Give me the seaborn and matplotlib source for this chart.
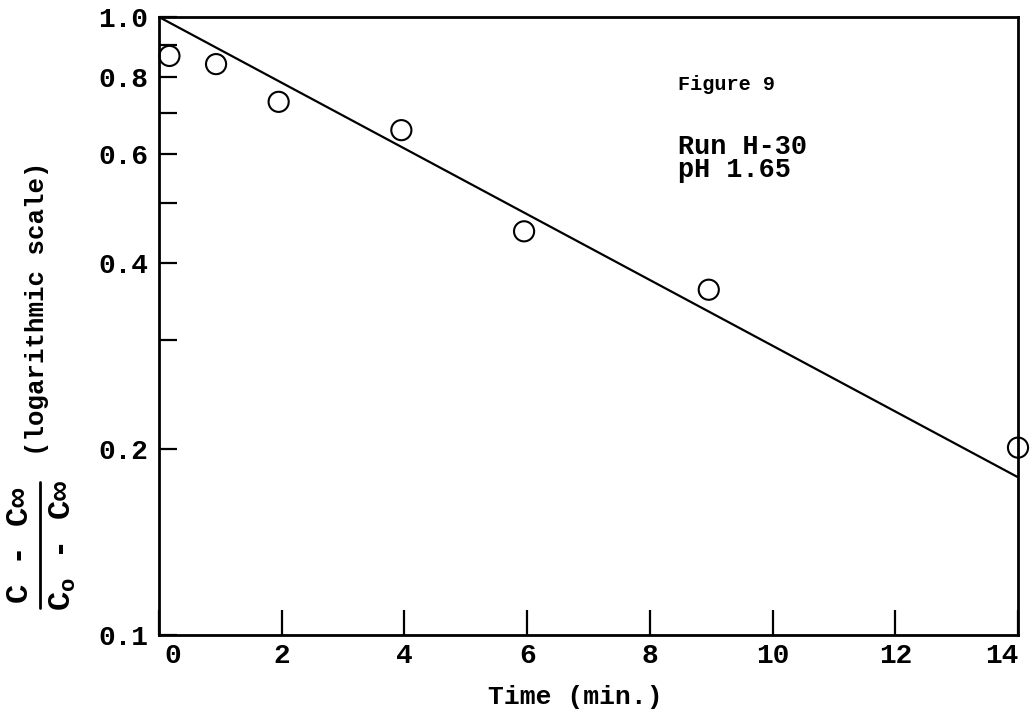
import numpy as np
import pandas as pd
import matplotlib
matplotlib.use("Agg")
import matplotlib.pyplot as plt
import matplotlib.transforms as mtransforms
from matplotlib.lines import Line2D
from matplotlib.ticker import FixedLocator, FixedFormatter, NullLocator
import seaborn as sns

# Measured concentration ratio vs time (Run H-30, pH 1.65)
time_min = [0.17, 0.93, 1.95, 3.95, 5.95, 8.96, 14.0]
ratio = [0.865, 0.839, 0.729, 0.656, 0.450, 0.362, 0.201]

# First-order fit line end points
fit_time = [0.0, 14.0]
fit_ratio = [1.0, 0.18]

y_ticks = [0.1, 0.2, 0.3, 0.4, 0.5, 0.6, 0.7, 0.8, 0.9, 1.0]
y_tick_labels = ["0.1", "0.2", "", "0.4", "", "0.6", "", "0.8", "", "1.0"]
x_ticks = [0, 2, 4, 6, 8, 10, 12, 14]
x_tick_labels = ["0", "2", "4", "6", "8", "10", "12", "14"]

sns.set_theme(style="white")
mono = "Liberation Mono"
plt.rcParams["font.family"] = [mono, "DejaVu Sans"]
plt.rcParams["font.weight"] = "bold"
plt.rcParams["mathtext.fontset"] = "custom"
plt.rcParams["mathtext.rm"] = mono + ":bold"
plt.rcParams["mathtext.it"] = mono + ":bold"
plt.rcParams["mathtext.bf"] = mono + ":bold"

W, H = 1032, 721
fig = plt.figure(figsize=(W / 100, H / 100), dpi=100)
ax = fig.add_axes([159 / W, 1 - 635 / H, (1018 - 159) / W, (635 - 17) / H])

points = pd.DataFrame({"t": time_min, "r": ratio})
fit = pd.DataFrame({"t": fit_time, "r": fit_ratio})

sns.lineplot(data=fit, x="t", y="r", ax=ax, color="black", linewidth=1.6)
sns.scatterplot(data=points, x="t", y="r", ax=ax, marker="o", s=210,
                facecolor="none", edgecolor="black", linewidth=1.5,
                clip_on=False, zorder=5)

ax.set_yscale("log")
ax.set_xlim(0, 14)
ax.set_ylim(0.1, 1.0)

ax.yaxis.set_major_locator(FixedLocator(y_ticks))
ax.yaxis.set_major_formatter(FixedFormatter(y_tick_labels))
ax.yaxis.set_minor_locator(NullLocator())
ax.xaxis.set_major_locator(FixedLocator(x_ticks))
ax.xaxis.set_major_formatter(FixedFormatter(x_tick_labels))

ax.tick_params(axis="y", direction="in", length=13, width=1.6, color="black",
               labelsize=20, pad=8, left=True)
ax.tick_params(axis="x", direction="in", length=18, width=1.6, color="black",
               labelsize=20, pad=6, bottom=True)
for lab in ax.get_xticklabels() + ax.get_yticklabels():
    lab.set_fontweight("bold")
    lab.set_color("black")

# Nudge the end labels of the time axis inward, off the corners
xl = ax.get_xticklabels()
xl[0].set_horizontalalignment("center")
xl[0].set_transform(xl[0].get_transform()
                    + mtransforms.ScaledTranslation(0.14, 0, fig.dpi_scale_trans))
xl[-1].set_horizontalalignment("right")

for sp in ax.spines.values():
    sp.set_color("black")
    sp.set_linewidth(2.0)

ax.set_xlabel("")
ax.set_ylabel("")

fig.text(575 / W, 1 - 697 / H, "Time (min.)", ha="center", va="center",
         fontsize=19, fontweight="bold", color="black")

# Y-axis label: stacked fraction followed by the scale note
fig.text(37 / W, 1 - 309 / H, "(logarithmic scale)", rotation=90,
         ha="center", va="center", fontsize=18.5, fontweight="bold",
         color="black")
fig.text(20 / W, 1 - 545 / H, "C - C\u221e", rotation=90,
         ha="center", va="center", fontsize=23, fontweight="bold",
         color="black")
fig.text(63 / W, 1 - 545 / H, r"C$_{\mathrm{o}}$ - C" + "\u221e", rotation=90,
         ha="center", va="center", fontsize=23, fontweight="bold",
         color="black")
fig.add_artist(Line2D([40 / W, 40 / W], [1 - 482 / H, 1 - 608 / H],
                      transform=fig.transFigure, color="black", linewidth=2.0))

ax.text(0.604, 0.890, "Figure 9", transform=ax.transAxes, ha="left",
        va="center", fontsize=14.5, fontweight="bold", color="black")
ax.text(0.604, 0.790, "Run H-30", transform=ax.transAxes, ha="left",
        va="center", fontsize=19.4, fontweight="bold", color="black")
ax.text(0.604, 0.752, "pH 1.65", transform=ax.transAxes, ha="left",
        va="center", fontsize=19.4, fontweight="bold", color="black")

fig.savefig("out.png", dpi=100, facecolor="white")
